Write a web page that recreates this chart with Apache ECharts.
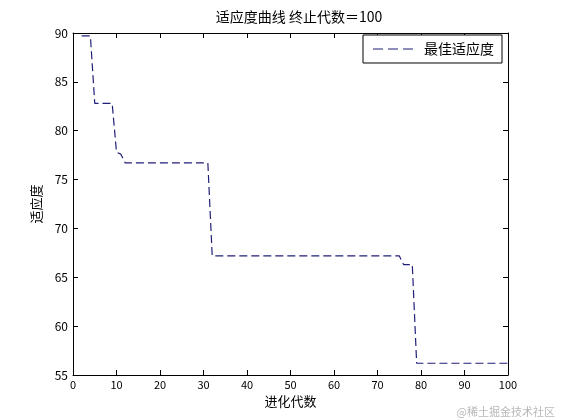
<!DOCTYPE html>
<html><head><meta charset="utf-8">
<script src="https://cdn.jsdelivr.net/npm/echarts@6/dist/echarts.min.js"></script>
<style>html,body{margin:0;padding:0;background:#fff}#c{width:561px;height:420px}</style>
</head><body><div id="c"></div>
<script>
const titleText = '适应度曲线 终止代数＝100';
const seriesName = '最佳适应度';
const xName = '进化代数';
const yName = '适应度';
const generations = [2, 4, 5, 9, 10, 11, 12, 31, 32, 75, 76, 78, 79, 100];
const bestFitness = [89.7, 89.7, 82.8, 82.8, 77.8, 77.6, 76.7, 76.7, 67.2, 67.2, 66.3, 66.3, 56.2, 56.2];
const xTicks = [0, 100, 10];
const yTicks = [55, 90, 5];

const font = '"Noto Sans CJK SC", "DejaVu Sans", sans-serif';
const lineColor = '#1f1f78';
const chart = echarts.init(document.getElementById('c'));
const axisCommon = {
  axisLine: { show: true, onZero: false, lineStyle: { color: '#000', width: 1 } },
  axisTick: { show: true, inside: true, length: 5, lineStyle: { color: '#000' } },
  splitLine: { show: false }
};
chart.setOption({
  animation: false,
  backgroundColor: '#fff',
  title: { text: titleText, left: 294, top: 5, textAlign: 'center',
    textStyle: { fontSize: 14, fontWeight: 'normal', color: '#000', fontFamily: font } },
  legend: {
    right: 59, top: 35, orient: 'vertical',
    backgroundColor: '#fff', borderColor: '#000', borderWidth: 1, borderRadius: 0,
    padding: [7, 8, 7, 10], itemWidth: 40, itemHeight: 1.6, itemGap: 4,
    textStyle: { fontSize: 14, color: '#000', fontFamily: font, padding: [0, 0, 0, 6] },
    itemStyle: { color: lineColor },
    data: [{ name: seriesName, icon: 'path://M0,0H10V1H0Z M15,0H25V1H15Z M30,0H40V1H30Z' }]
  },
  grid: { left: 73, right: 53, top: 33, bottom: 45 },
  xAxis: [
    Object.assign({ type: 'value', min: xTicks[0], max: xTicks[1], interval: xTicks[2],
      name: xName, nameLocation: 'middle', nameGap: 18,
      nameTextStyle: { fontSize: 13, color: '#000', fontFamily: font },
      axisLabel: { fontSize: 11, color: '#000', margin: 4, fontFamily: font } }, axisCommon),
    Object.assign({ type: 'value', position: 'top', min: xTicks[0], max: xTicks[1], interval: xTicks[2],
      axisLabel: { show: false } }, axisCommon)
  ],
  yAxis: [
    Object.assign({ type: 'value', min: yTicks[0], max: yTicks[1], interval: yTicks[2],
      name: yName, nameLocation: 'middle', nameGap: 30,
      nameTextStyle: { fontSize: 13, color: '#000', fontFamily: font },
      axisLabel: { fontSize: 12, color: '#000', margin: 5, fontFamily: font } }, axisCommon),
    Object.assign({ type: 'value', position: 'right', min: yTicks[0], max: yTicks[1], interval: yTicks[2],
      axisLabel: { show: false } }, axisCommon)
  ],
  series: [{
    name: seriesName, type: 'line', symbol: 'none', xAxisIndex: 0, yAxisIndex: 0,
    data: generations.map((g, i) => [g, bestFitness[i]]),
    lineStyle: { color: lineColor, width: 1.2, type: [8, 4] },
    itemStyle: { color: lineColor }
  }],
  graphic: [{
    type: 'text', right: 6, bottom: 3,
    style: { text: '@稀土掘金技术社区', fontSize: 11, fill: '#b8b8b8', fontFamily: font }
  }]
});
</script></body></html>
